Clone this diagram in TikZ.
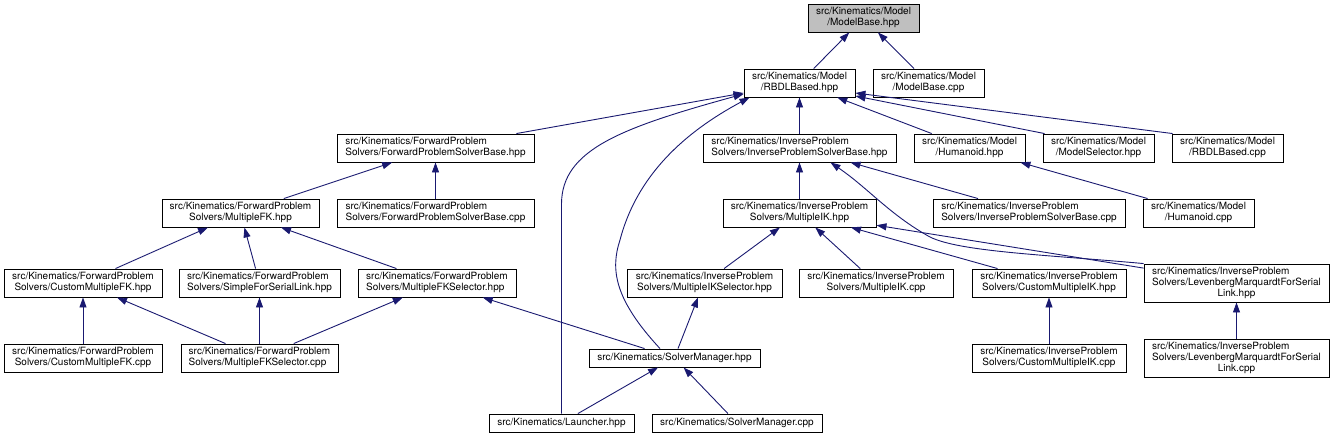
\documentclass[tikz,border=0pt]{standalone}
\usepackage{fontspec}
\setmainfont{TeX Gyre Heros}
\usetikzlibrary{arrows.meta,calc}
\definecolor{edgeblue}{HTML}{191970}
\definecolor{rootgray}{HTML}{BFBFBF}
\newcommand\Lab[2]{\begin{tabular}{@{}l@{}}#1\\#2\end{tabular}}
\newcommand\Cab[2]{\begin{tabular}{@{}c@{}}#1\\#2\end{tabular}}
\newcommand\Tab[3]{\begin{tabular}{@{}l@{}}#1\\#2\\\multicolumn{1}{@{}c@{}}{#3}\end{tabular}}
\begin{document}
\begin{tikzpicture}[x=1pt,y=-1pt,
  file/.style={draw=black, line width=0.9pt, fill=white, inner sep=0pt,
    font=\fontsize{10}{11}\selectfont},
  two/.style={file, minimum height=28pt},
  one/.style={file, minimum height=18pt},
  three/.style={file, minimum height=38pt},
  root/.style={two, fill=rootgray},
  edge/.style={draw=edgeblue, line width=0.9pt, -{Triangle[length=10pt,width=7pt]}}]
\useasboundingbox (0,0) rectangle (1334,437);

% row 0
\node[root, minimum width=111pt] (mb) at (863.5,18) {\Cab{src/Kinematics/Model}{/ModelBase.hpp}};
% row 1
\node[two, minimum width=111pt] (rbdl) at (799.5,83) {\Cab{src/Kinematics/Model}{/RBDLBased.hpp}};
\node[two, minimum width=111pt] (mbcpp) at (928.5,83) {\Cab{src/Kinematics/Model}{/ModelBase.cpp}};
% row 2
\node[two, minimum width=197pt] (fpsb) at (435.5,148) {\Lab{src/Kinematics/ForwardProblem}{Solvers/ForwardProblemSolverBase.hpp}};
\node[two, minimum width=193pt] (ipsb) at (799.5,148) {\Lab{src/Kinematics/InverseProblem}{Solvers/InverseProblemSolverBase.hpp}};
\node[two, minimum width=111pt] (hum) at (969.5,148) {\Cab{src/Kinematics/Model}{/Humanoid.hpp}};
\node[two, minimum width=111pt] (msel) at (1098.5,148) {\Cab{src/Kinematics/Model}{/ModelSelector.hpp}};
\node[two, minimum width=111pt] (rbdlcpp) at (1227.5,148) {\Cab{src/Kinematics/Model}{/RBDLBased.cpp}};
% row 3
\node[two, minimum width=157pt] (mfk) at (240.5,213) {\Cab{src/Kinematics/ForwardProblem}{Solvers/MultipleFK.hpp}};
\node[two, minimum width=197pt] (fpsbcpp) at (435.5,213) {\Lab{src/Kinematics/ForwardProblem}{Solvers/ForwardProblemSolverBase.cpp}};
\node[two, minimum width=153pt] (mik) at (799.5,213) {\Cab{src/Kinematics/InverseProblem}{Solvers/MultipleIK.hpp}};
\node[two, minimum width=192pt] (ipsbcpp) at (1029,213) {\Lab{src/Kinematics/InverseProblem}{Solvers/InverseProblemSolverBase.cpp}};
\node[two, minimum width=111pt] (humcpp) at (1198.5,213) {\Cab{src/Kinematics/Model}{/Humanoid.cpp}};
% row 4
\node[two, minimum width=158pt] (cmfk) at (83,283) {\Cab{src/Kinematics/ForwardProblem}{Solvers/CustomMultipleFK.hpp}};
\node[two, minimum width=161pt] (sfsl) at (259.5,283) {\Lab{src/Kinematics/ForwardProblem}{Solvers/SimpleForSerialLink.hpp}};
\node[two, minimum width=158pt] (mfksel) at (437,283) {\Lab{src/Kinematics/ForwardProblem}{Solvers/MultipleFKSelector.hpp}};
\node[two, minimum width=155pt] (miksel) at (704.5,283) {\Cab{src/Kinematics/InverseProblem}{Solvers/MultipleIKSelector.hpp}};
\node[two, minimum width=154pt] (mikcpp) at (876,283) {\Cab{src/Kinematics/InverseProblem}{Solvers/MultipleIK.cpp}};
\node[two, minimum width=154pt] (cmik) at (1049,283) {\Cab{src/Kinematics/InverseProblem}{Solvers/CustomMultipleIK.hpp}};
\node[three, minimum width=185pt] (lmh) at (1236.5,283) {\Tab{src/Kinematics/InverseProblem}{Solvers/LevenbergMarquardtForSerial}{Link.hpp}};
% row 5
\node[two, minimum width=158pt] (cmfkcpp) at (83,358) {\Cab{src/Kinematics/ForwardProblem}{Solvers/CustomMultipleFK.cpp}};
\node[two, minimum width=157pt] (mfkselcpp) at (259.5,358) {\Lab{src/Kinematics/ForwardProblem}{Solvers/MultipleFKSelector.cpp}};
\node[one, minimum width=171pt] (sm) at (674.5,358) {src/Kinematics/SolverManager.hpp};
\node[two, minimum width=154pt] (cmikcpp) at (1049,358) {\Cab{src/Kinematics/InverseProblem}{Solvers/CustomMultipleIK.cpp}};
\node[three, minimum width=185pt] (lmcpp) at (1236.5,358) {\Tab{src/Kinematics/InverseProblem}{Solvers/LevenbergMarquardtForSerial}{Link.cpp}};
% row 6
\node[one, minimum width=145pt] (launch) at (561.5,423) {src/Kinematics/Launcher.hpp};
\node[one, minimum width=170pt] (smcpp) at (737,423) {src/Kinematics/SolverManager.cpp};

% edges
\draw[edge] (rbdl) -- (mb);
\draw[edge] (mbcpp) -- (mb);
\draw[edge] (fpsb) -- (rbdl);
\draw[edge] (ipsb) -- (rbdl);
\draw[edge] (hum) -- (rbdl);
\draw[edge] ([xshift=2pt]msel.north west) -- ($(rbdl.east)+(0,13)$);
\draw[edge] ([xshift=1pt]rbdlcpp.north west) -- ($(rbdl.east)+(0,10)$);
\draw[edge] (launch.north) -- ++(0,-210) .. controls (562,150) and (620,128) .. ($(rbdl.west)+(0,11)$);
\draw[edge] ([xshift=-14.5pt]sm.north) .. controls (615,300) and (610,270) .. (620,240)
   .. controls (637,175) and (685,132) .. ([xshift=6pt]rbdl.south west);
\draw[edge] (mfk) -- (fpsb);
\draw[edge] (fpsbcpp) -- (fpsb);
\draw[edge] (mik) -- (ipsb);
\draw[edge] (ipsbcpp) -- (ipsb);
\draw[edge] (lmh.north west) .. controls (1050,255) and (960,252) .. (930,237)
   .. controls (890,215) and (868,188) .. ([xshift=31pt]ipsb.south);
\draw[edge] (humcpp) -- (hum);
\draw[edge] (cmfk) -- (mfk);
\draw[edge] (sfsl) -- (mfk);
\draw[edge] (mfksel) -- (mfk);
\draw[edge] (miksel) -- (mik);
\draw[edge] (mikcpp) -- (mik);
\draw[edge] (cmik) -- (mik);
\draw[edge] (lmh) -- (mik);
\draw[edge] (cmfkcpp) -- (cmfk);
\draw[edge] (mfkselcpp) -- (cmfk);
\draw[edge] (mfkselcpp) -- (sfsl);
\draw[edge] (mfkselcpp) -- (mfksel);
\draw[edge] (sm) -- (mfksel);
\draw[edge] ([xshift=3.5pt]sm.north) -- ([xshift=-6.5pt]miksel.south);
\draw[edge] (cmikcpp) -- (cmik);
\draw[edge] (lmcpp) -- (lmh);
\draw[edge] (launch) -- (sm);
\draw[edge] (smcpp) -- (sm);
\end{tikzpicture}
\end{document}
